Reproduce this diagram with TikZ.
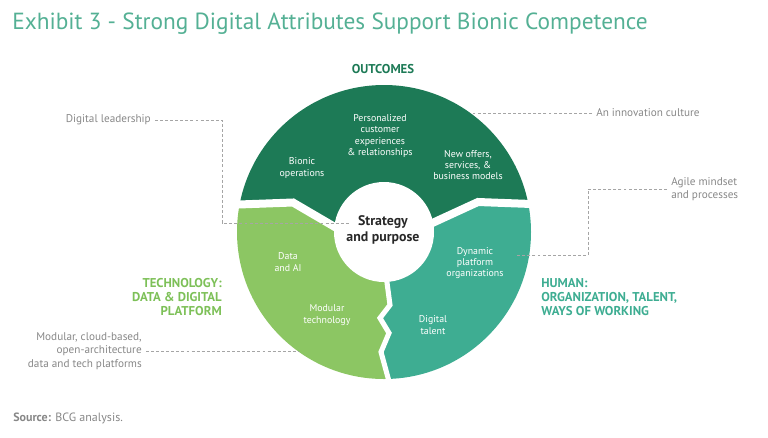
\documentclass[tikz,border=0pt]{standalone}
\usepackage{fontspec}
\setmainfont{PT Sans}
\usetikzlibrary{positioning}

\definecolor{bcgdark}{RGB}{29,122,86}
\definecolor{bcglight}{RGB}{140,198,99}
\definecolor{bcgteal}{RGB}{62,173,146}
\definecolor{titleteal}{RGB}{84,176,148}
\definecolor{techgreen}{RGB}{125,192,88}
\definecolor{notegray}{RGB}{135,135,135}
\definecolor{dashgray}{RGB}{165,165,165}
\definecolor{centertext}{RGB}{40,40,40}

\begin{document}
\begin{tikzpicture}[x=0.75pt, y=-0.75pt,
    seglabel/.style={text=white, align=center, inner sep=0pt, font=\fontsize{7.4}{8.4}\selectfont},
    note/.style={text=notegray, inner sep=3pt, font=\fontsize{8.4}{10.2}\selectfont},
    pillar/.style={inner sep=0pt, font=\bfseries\fontsize{9.6}{10.2}\selectfont},
    leader/.style={draw=dashgray, line width=0.6pt, dash pattern=on 2.2pt off 1.6pt},
    gap/.style={white, line width=6pt, line join=miter}]
    \useasboundingbox (0,0) rectangle (768,437);

    % Title
    \node[anchor=base west, inner sep=0pt, text=titleteal, font=\fontsize{17.5}{20}\selectfont] (title) at (12,29) {Exhibit 3 - Strong Digital Attributes Support Bionic Competence};

    % Ring
    \coordinate (c) at (384,232);
    \begin{scope}
        \clip (230,205) -- (293,203) -- (335,227) -- (386,282) -- (390,305) -- (380,318) -- (389,333) -- (381,352) -- (390,378) -- (390,395) -- (230,395) -- cycle;
        \fill[bcglight] (c) circle[radius=147];
    \end{scope}
    \begin{scope}
        \clip (540,204) -- (478,202) -- (434,222) -- (386,282) -- (390,305) -- (380,318) -- (389,333) -- (381,352) -- (390,378) -- (390,395) -- (540,395) -- cycle;
        \fill[bcgteal] (c) circle[radius=147];
    \end{scope}
    \begin{scope}
        \clip (230,205) -- (293,203) -- (335,227) -- (384,232) -- (434,222) -- (478,202) -- (540,204) -- (540,70) -- (230,70) -- cycle;
        \fill[bcgdark] (c) circle[radius=147];
    \end{scope}
    % Gaps
    \draw[gap] (225,205) -- (293,202.5) -- (340,230);
    \draw[gap] (545,204.5) -- (478,202) -- (428,225);
    \draw[gap, line width=3.8pt] (386,275) -- (390,305) -- (380,318) -- (389,333) -- (381,352) -- (390,385);
    \fill[white] (c) circle[radius=50];

    % Segment labels
    \node[seglabel] (personal) at (380,136) {Personalized\\customer\\experiences\\\& relationships};
    \node[seglabel] (bionic) at (302,168) {Bionic\\operations};
    \node[seglabel] (offers) at (468,165) {New offers,\\services, \&\\business models};
    \node[seglabel] (dataai) at (288,262) {Data\\and AI};
    \node[seglabel] (modular) at (327,315) {Modular\\technology};
    \node[seglabel] (dynamic) at (475,263) {Dynamic\\platform\\organizations};
    \node[seglabel] (talent) at (433,325) {Digital\\talent};
    \node[align=center, inner sep=0pt, text=centertext, font=\bfseries\fontsize{10.4}{12.2}\selectfont] (strategy) at (383,230) {Strategy\\and purpose};

    % Pillar labels
    \node[pillar, text=bcgdark] (outcomes) at (383,69) {OUTCOMES};
    \node[pillar, text=techgreen, align=right, anchor=east] (technology) at (222,297) {TECHNOLOGY:\\DATA \& DIGITAL\\PLATFORM};
    \node[pillar, text=bcgteal, align=left, anchor=west] (human) at (541,297) {HUMAN:\\ORGANIZATION, TALENT,\\WAYS OF WORKING};

    % Notes and leaders
    \node[note, anchor=east] (leadership) at (155,120) {Digital leadership};
    \coordinate (leadbend) at (222,223);
    \coordinate (leadend) at (350,223);
    \draw[leader] (leadership.east) -| (leadbend) -- (leadend);

    \node[note, anchor=west] (innovation) at (592,113) {An innovation culture};
    \coordinate (innovend) at (472,113);
    \draw[leader] (innovation.west) -- (innovend);

    \node[note, anchor=west, align=left] (agile) at (667,189) {Agile mindset\\and processes};
    \coordinate (agilebend) at (588,255);
    \coordinate (agileend) at (517,255);
    \draw[leader] (agile.west) -| (agilebend) -- (agileend);

    \node[note, anchor=east, align=right] (cloud) at (146,351) {Modular, cloud-based,\\open-architecture\\data and tech platforms};
    \coordinate (cloudend) at (299,351);
    \draw[leader] (cloud.east) -- (cloudend);

    % Source
    \node[anchor=base west, inner sep=0pt, text=notegray, font=\fontsize{9}{10}\selectfont] (source) at (13,421) {\textbf{Source:} BCG analysis.};
\end{tikzpicture}
\end{document}
